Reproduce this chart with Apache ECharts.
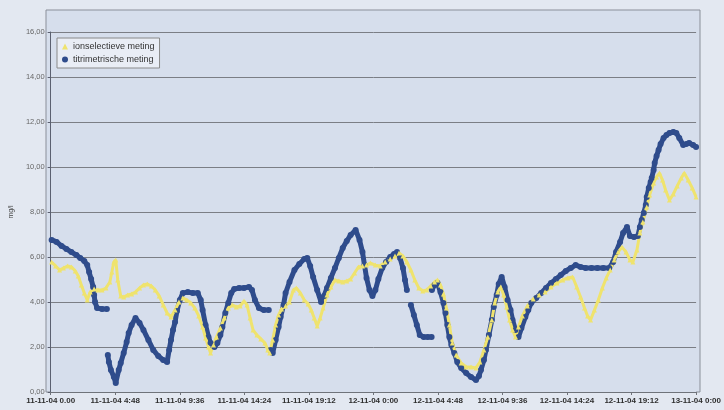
<!DOCTYPE html>
<html>
<head>
<meta charset="utf-8">
<script src="https://cdn.jsdelivr.net/npm/echarts@6/dist/echarts.min.js"></script>
<style>
html,body{margin:0;padding:0;background:#e3e8f1;}
#chart{width:724px;height:410px;}
</style>
</head>
<body>
<div id="chart"></div>
<script>
// tijd in uren vanaf 11-11-04 0:00, waarden in mg/l
var xLabels = ['11-11-04 0.00', '11-11-04 4:48', '11-11-04 9:36', '11-11-04 14:24', '11-11-04 19:12',
	'12-11-04 0:00', '12-11-04 4:48', '12-11-04 9:36', '12-11-04 14:24', '12-11-04 19:12', '13-11-04 0:00'];

// titrimetrische meting ('-' = onderbreking)
var titriTime = [0.07,0.44,0.81,1.17,1.54,1.91,2.20,2.50,2.72,2.86,3.01,3.16,3.23,3.30,3.45,3.82,4.18,4.20,
	4.25,4.33,4.48,4.70,4.84,5.06,5.21,5.43,5.65,5.80,6.02,6.31,6.61,6.90,7.27,7.63,8.00,8.37,8.66,8.81,8.95,9.10,
	9.25,9.39,9.61,9.83,10.20,10.57,10.94,11.16,11.30,11.52,11.74,11.89,12.18,12.40,12.62,12.77,12.99,13.21,13.43,
	13.65,14.02,14.38,14.75,14.97,15.19,15.49,15.85,16.22,16.30,
	16.37,16.51,16.73,16.95,17.10,17.32,17.47,17.76,18.13,18.49,18.86,19.08,19.30,19.52,19.82,20.11,20.33,20.55,
	20.84,21.14,21.43,21.72,22.02,22.31,22.68,22.97,23.19,23.34,23.49,23.71,23.93,24.15,24.37,24.66,24.95,25.25,
	25.54,25.76,25.98,26.20,26.35,26.49,26.60,
	26.79,27.01,27.23,27.45,27.74,28.04,28.33,28.34,
	28.35,28.55,28.77,28.99,29.21,29.36,29.50,29.65,29.80,30.02,30.24,30.53,30.90,31.26,31.63,31.85,32.00,32.22,
	32.37,32.59,32.81,32.95,33.17,33.32,33.54,33.76,33.98,34.20,34.35,34.57,34.79,35.01,35.30,35.52,35.74,36.11,
	36.48,36.84,37.21,37.58,37.94,38.31,38.68,39.04,39.41,39.78,40.22,40.66,41.10,41.54,41.83,42.05,42.35,42.57,
	42.86,43.08,43.38,43.67,43.82,43.96,44.11,44.26,44.33,44.48,44.62,44.70,44.84,44.92,45.06,45.21,45.36,45.58,
	45.80,46.02,46.31,46.53,46.75,47.04,47.27,47.48,47.78,48.00];
var titriValue = [6.76,6.67,6.49,6.36,6.22,6.09,5.96,5.82,5.64,5.33,5.02,4.67,4.31,4.00,3.73,3.69,3.69,'-',
	1.64,1.33,0.98,0.67,0.40,0.98,1.29,1.73,2.22,2.62,2.98,3.29,3.07,2.76,2.31,1.87,1.60,1.42,1.33,1.87,2.31,2.76,
	3.11,3.60,4.09,4.40,4.44,4.40,4.40,4.09,3.64,2.98,2.44,2.18,2.00,2.18,2.53,2.89,3.51,3.96,4.40,
	4.58,4.62,4.62,4.67,4.53,4.09,3.73,3.64,3.64,'-',
	1.87,1.73,2.31,2.89,3.33,3.87,4.40,4.89,5.42,5.69,5.91,5.96,5.60,5.11,4.53,4.00,4.27,4.62,
	5.07,5.51,5.96,6.40,6.71,6.98,7.20,6.76,6.22,5.64,5.07,4.53,4.27,4.53,5.02,5.51,5.78,6.00,
	6.13,6.22,5.96,5.51,4.98,4.53,'-',
	3.87,3.42,2.98,2.53,2.44,2.44,2.44,'-',
	4.53,4.76,4.84,4.44,3.96,3.51,2.98,2.44,2.09,1.73,1.33,1.07,0.84,0.67,0.53,0.71,0.98,1.42,
	1.87,2.53,3.20,3.78,4.31,4.80,5.11,4.67,4.09,3.64,3.20,2.76,2.44,2.84,3.33,3.64,3.96,4.18,
	4.40,4.62,4.84,5.02,5.20,5.38,5.51,5.64,5.56,5.51,5.51,5.51,5.51,5.51,5.78,6.22,6.67,7.07,
	7.33,6.93,6.89,6.93,7.33,7.64,7.96,8.31,8.67,9.07,9.33,9.51,9.87,10.18,10.49,10.76,11.02,11.29,
	11.42,11.51,11.56,11.51,11.29,10.98,11.02,11.07,10.98,10.89];

// ionselectieve meting
var ionTime = [0.07,0.37,0.66,0.95,1.25,1.54,1.83,2.05,2.28,2.50,2.72,2.94,3.23,3.52,3.82,4.11,4.40,4.55,4.70,
	4.84,4.99,5.21,5.43,5.72,6.02,6.31,6.61,6.90,7.19,7.49,7.78,8.07,8.37,8.66,8.95,9.25,9.54,9.83,10.13,10.42,
	10.72,11.01,11.30,11.52,11.74,11.89,12.11,12.33,12.62,12.92,13.21,13.50,13.80,14.09,14.38,14.60,14.83,15.05,
	15.34,15.63,15.93,16.15,16.29,16.51,16.73,16.95,17.17,17.47,17.76,18.05,18.27,18.57,18.86,19.15,19.38,19.60,
	19.82,20.04,20.26,20.55,20.84,21.14,21.43,21.72,22.02,22.31,22.60,22.90,23.19,23.49,23.78,24.15,24.51,24.88,
	25.25,25.61,25.91,26.20,26.49,26.79,27.08,27.38,27.67,27.96,28.26,28.55,28.77,28.99,29.21,29.43,29.65,29.87,
	30.16,30.53,30.90,31.26,31.63,31.92,32.22,32.51,32.81,33.03,33.25,33.47,33.69,33.91,34.13,34.35,34.57,34.79,
	35.08,35.45,35.89,36.33,36.77,37.21,37.65,38.09,38.46,38.82,39.12,39.41,39.70,39.93,40.15,40.44,40.73,41.03,
	41.32,41.61,41.91,42.20,42.49,42.79,43.08,43.30,43.60,43.82,44.04,44.33,44.55,44.84,45.06,45.28,45.50,45.73,
	46.02,46.31,46.60,46.90,47.12,47.41,47.71,48.00];
var ionValue = [5.78,5.60,5.42,5.51,5.60,5.56,5.38,5.16,4.76,4.40,4.09,4.44,4.58,4.53,4.53,4.62,4.89,5.33,5.78,
	5.87,4.98,4.27,4.22,4.31,4.36,4.44,4.62,4.76,4.80,4.71,4.53,4.27,3.87,3.51,3.33,3.64,4.00,4.18,4.09,3.96,
	3.73,3.38,2.89,2.40,2.00,1.73,2.09,2.44,2.84,3.29,3.73,3.87,3.78,3.82,4.04,3.87,3.29,2.76,
	2.53,2.36,2.18,1.87,1.73,2.31,2.98,3.42,3.69,3.82,4.00,4.53,4.62,4.40,4.09,3.91,3.64,3.29,
	2.93,3.29,3.73,4.31,4.67,4.98,4.93,4.89,4.93,5.02,5.29,5.56,5.60,5.64,5.73,5.64,5.60,5.78,
	5.91,6.04,6.18,6.04,5.78,5.42,4.98,4.62,4.49,4.53,4.71,4.89,4.98,4.76,4.36,3.73,2.98,2.18,
	1.64,1.29,1.11,1.11,1.07,1.33,1.87,2.44,3.20,3.96,4.44,4.67,4.31,3.78,3.20,2.76,2.44,2.89,
	3.38,3.82,4.13,4.31,4.44,4.67,4.84,4.98,5.07,5.11,4.67,4.22,3.73,3.38,3.20,3.64,4.09,4.62,
	5.07,5.42,5.87,6.22,6.44,6.22,5.87,5.78,6.31,7.07,7.56,8.22,8.76,9.29,9.56,9.73,9.42,8.98,
	8.53,8.80,9.16,9.51,9.73,9.42,9.07,8.67];

function pairs(t, v) {
	var out = [];
	for (var i = 0; i < t.length; i++) {
		out.push([t[i], v[i]]);
	}
	return out;
}

var myChart = echarts.init(document.getElementById('chart'));
var option = {
	animation: false,
	backgroundColor: '#e3e8f1',
	textStyle: { fontFamily: 'Liberation Sans, Arial, sans-serif' },
	grid: {
		left: 46,
		right: 24,
		top: 32,
		bottom: 18,
		show: true,
		backgroundColor: '#d6deec',
		borderWidth: 0
	},
	// plotvlak loopt door boven 16,00 (zoals in Excel)
	graphic: [{
		type: 'rect',
		z: -1,
		silent: true,
		shape: { x: 46, y: 10, width: 654, height: 382 },
		style: { fill: '#d6deec', stroke: '#8a8f99', lineWidth: 1 }
	}],
	legend: {
		left: 57,
		top: 38,
		orient: 'vertical',
		backgroundColor: '#e9edf5',
		borderColor: '#8a8a8a',
		borderWidth: 1,
		padding: [4, 5],
		itemGap: 4,
		itemWidth: 6,
		itemHeight: 6,
		textStyle: { fontSize: 9, color: '#333' },
		data: [
			{ name: 'ionselectieve meting', icon: 'triangle' },
			{ name: 'titrimetrische meting', icon: 'circle' }
		]
	},
	xAxis: {
		type: 'value',
		min: 0,
		max: 48,
		interval: 4.8,
		axisLine: { lineStyle: { color: '#6f737a' } },
		axisTick: { show: true, length: 3, lineStyle: { color: '#6f737a' } },
		splitLine: { show: false },
		axisLabel: {
			fontSize: 8,
			fontWeight: 'bold',
			color: '#2f2f2f',
			margin: 5,
			formatter: function (v) {
				return xLabels[Math.round(v / 4.8)];
			}
		}
	},
	yAxis: {
		type: 'value',
		min: 0,
		max: 16,
		interval: 2,
		name: 'mg/l',
		nameLocation: 'middle',
		nameGap: 34,
		nameRotate: 90,
		nameTextStyle: { fontSize: 7, color: '#444' },
		axisLine: { show: true, lineStyle: { color: '#5b6070' } },
		axisTick: { show: true, length: 3, lineStyle: { color: '#5b6070' } },
		splitLine: { lineStyle: { color: '#7b7e85', width: 1 } },
		axisLabel: {
			fontSize: 7.5,
			color: '#666',
			margin: 6,
			formatter: function (v) {
				return v.toFixed(2).replace('.', ',');
			}
		}
	},
	series: [{
		name: 'titrimetrische meting',
		type: 'line',
		data: pairs(titriTime, titriValue),
		symbol: 'circle',
		symbolSize: 6,
		showAllSymbol: true,
		connectNulls: false,
		itemStyle: { color: '#2f4c8c' },
		lineStyle: { color: '#2f4c8c', width: 5 }
	}, {
		name: 'ionselectieve meting',
		type: 'line',
		data: pairs(ionTime, ionValue),
		symbol: 'triangle',
		symbolSize: 5,
		showAllSymbol: true,
		itemStyle: { color: '#efe36e' },
		lineStyle: { color: '#efe36e', width: 3 }
	}]
};
myChart.setOption(option);
</script>
</body>
</html>
